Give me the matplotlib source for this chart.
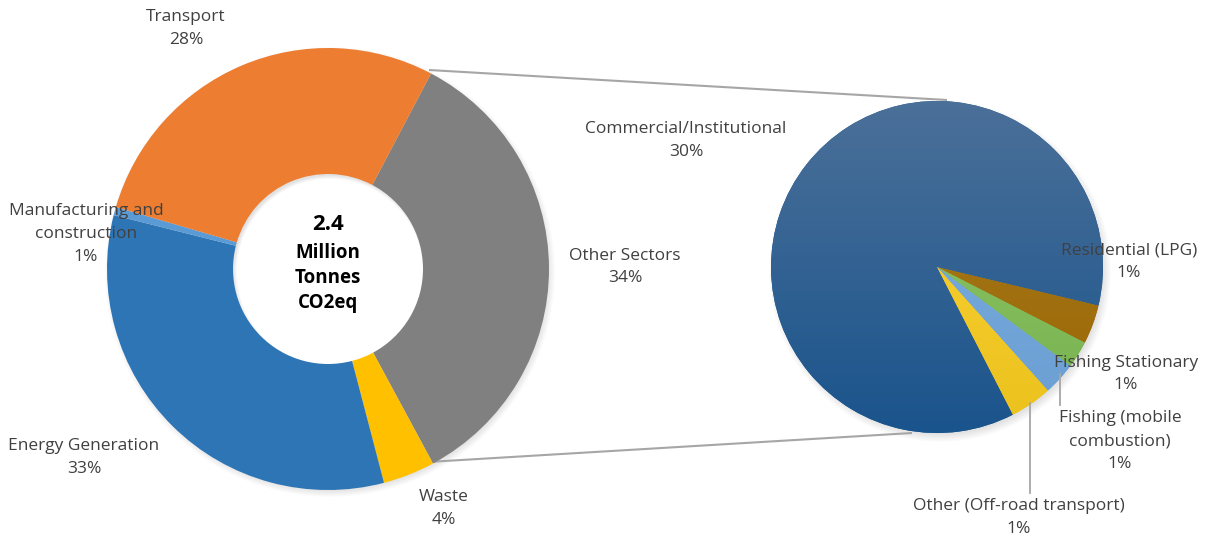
import numpy as np
import matplotlib
matplotlib.use('Agg')
import matplotlib.pyplot as plt
from matplotlib.patches import Wedge, Circle
from matplotlib.colors import to_rgb

plt.rcParams['font.family'] = ['Open Sans', 'DejaVu Sans']

# ---------------- data ----------------
main_labels = ['Other Sectors', 'Waste', 'Energy Generation',
               'Manufacturing and\nconstruction', 'Transport']
main_values = [34.4, 3.8, 33.0, 0.6, 28.2]
main_colors = ['#808080', '#FFC000', '#2E75B6', '#5B9BD5', '#ED7D31']

sub_labels = ['Commercial/Institutional', 'Residential (LPG)', 'Fishing Stationary',
              'Fishing (mobile\ncombustion)', 'Other (Off-road transport)']
sub_values = [29.6, 1.3, 0.9, 1.1, 1.4]
sub_top_colors = ['#4B7099', '#A98126', '#90C86C', '#7EB0E2', '#FDD63C']
sub_bottom_colors = ['#1A548C', '#9A6400', '#77B24E', '#6A9ED2', '#EBC11C']

total_value = '2.4'
center_lines = ['Million', 'Tonnes', 'CO2eq']

# ---------------- layout ----------------
W, H = 1207, 540
fig = plt.figure(figsize=(W / 100, H / 100), dpi=100)
ax = fig.add_axes([0, 0, 1, 1])

def Y(py):
    return H - py

text_color = '#404040'
fs = 12.5

# left donut
lcx, lcy, lr, lri = 328, Y(269), 221, 95
# right pie
rcx, rcy, rr = 937, Y(267), 166

# shadows
for i in range(10):
    ax.add_patch(Wedge((lcx + 2, lcy - 3), lr + 4 - i * 0.8, 0, 360,
                       width=(lr - lri) + 6 - i * 1.2, facecolor='black',
                       alpha=0.012, lw=0, zorder=0))
    ax.add_patch(Circle((rcx + 3, rcy - 4), rr + 5 - i * 0.9,
                        facecolor='black', alpha=0.013, lw=0, zorder=0))

wedges_l, _ = ax.pie(main_values, colors=main_colors, startangle=62.2,
                     counterclock=False, center=(lcx, lcy), radius=lr,
                     wedgeprops=dict(width=lr - lri, linewidth=0))
for w in wedges_l:
    w.set_zorder(2)

wedges_r, _ = ax.pie(sub_values, colors=sub_bottom_colors, startangle=-62.8,
                     counterclock=False, center=(rcx, rcy), radius=rr,
                     wedgeprops=dict(linewidth=0))
n = 256
t = np.linspace(0, 1, n)[:, None]
for w, ct, cb in zip(wedges_r, sub_top_colors, sub_bottom_colors):
    w.set_zorder(2)
    img = (1 - t) * np.array(to_rgb(ct)) + t * np.array(to_rgb(cb))
    img = img[:, None, :]
    im = ax.imshow(img, extent=[rcx - rr, rcx + rr, rcy - rr, rcy + rr],
                   origin='upper', aspect='auto', interpolation='bilinear',
                   zorder=2.5)
    im.set_clip_path(w)

# connector lines
line_kw = dict(color='#A6A6A6', lw=1.5, zorder=1, solid_capstyle='butt')
ax.plot([429, 947], [Y(70), Y(100)], **line_kw)
ax.plot([428, 912], [Y(462), Y(433)], **line_kw)

# leader lines on right
lead_kw = dict(color='#A6A6A6', lw=1.3, zorder=3)
ax.plot([1060, 1060], [Y(374), Y(405)], **lead_kw)
ax.plot([1030, 1030], [Y(403), Y(493)], **lead_kw)

# labels
ls = 1.58
main_pos = [(625, 267), (444, 508.5), (84, 457.5), (86, 234), (186, 28.5)]
for lab, v, (px, py) in zip(main_labels, main_values, main_pos):
    ax.text(px, Y(py), f'{lab}\n{v:.0f}%', ha='center', va='center',
            fontsize=fs, color=text_color, linespacing=ls, zorder=5)

sub_pos = [(686, 140.5), (1129, 261.5), (1126, 374), (1120, 441), (1019, 517.5)]
for lab, v, (px, py) in zip(sub_labels, sub_values, sub_pos):
    ax.text(px, Y(py), f'{lab}\n{v:.0f}%', ha='center', va='center',
            fontsize=fs, color=text_color, linespacing=ls, zorder=5)

# center text
ax.text(lcx, Y(225), total_value, ha='center', va='center', fontsize=16,
        fontweight='bold', color='black', zorder=5)
for i, s in enumerate(center_lines):
    ax.text(lcx, Y(252.5 + 25.3 * i), s, ha='center', va='center', fontsize=13.5,
            fontweight='bold', color='black', zorder=5)

ax.set_xlim(0, W)
ax.set_ylim(0, H)
ax.set_aspect('auto')
ax.axis('off')

fig.savefig('out.png', dpi=100, facecolor='white')
